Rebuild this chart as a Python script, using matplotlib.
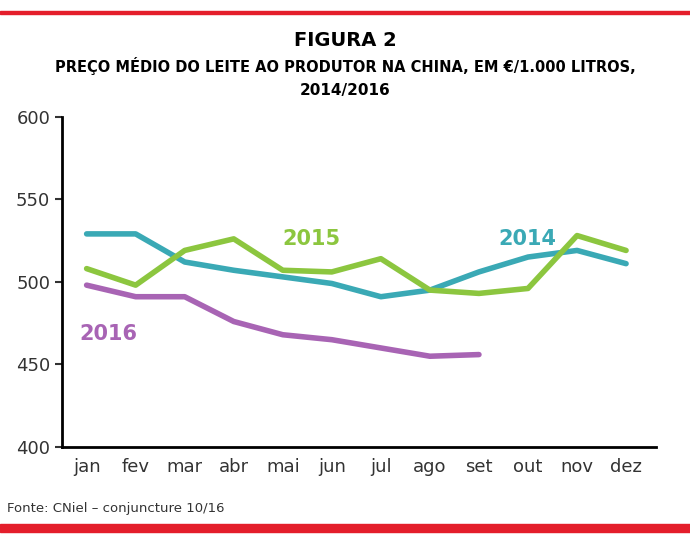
import matplotlib
matplotlib.use("Agg")
import matplotlib.pyplot as plt
from matplotlib.patches import Rectangle

months = ["jan","fev","mar","abr","mai","jun","jul","ago","set","out","nov","dez"]
s2014 = [529,529,512,507,503,499,491,495,506,515,519,511]
s2015 = [508,498,519,526,507,506,514,495,493,496,528,519]
s2016 = [498,491,491,476,468,465,460,455,456]
yticks = [400,450,500,550,600]

fig = plt.figure(figsize=(6.9,5.42), dpi=100)
ax = fig.add_axes([0.09, 0.175, 0.86, 0.61])
x = list(range(12))
ax.plot(x, s2014, color="#3aa9b5", lw=4, solid_capstyle="round", solid_joinstyle="round")
ax.plot(x, s2015, color="#8cc63f", lw=4, solid_capstyle="round", solid_joinstyle="round")
ax.plot(x[:len(s2016)], s2016, color="#a864b4", lw=4, solid_capstyle="round", solid_joinstyle="round")
ax.set_ylim(400,600)
ax.set_xlim(-0.5, 11.6)
ax.set_yticks(yticks)
ax.set_xticks(x)
ax.set_xticklabels(months)
for s in ["top","right"]:
    ax.spines[s].set_visible(False)
ax.spines["left"].set_linewidth(2)
ax.spines["bottom"].set_linewidth(2)
ax.tick_params(axis="y", labelsize=13, length=5, width=1.5, colors="#333333")
ax.tick_params(axis="x", labelsize=13, length=0, pad=8, colors="#333333")
ax.text(4.0, 522, "2015", color="#8cc63f", fontsize=15, fontweight="bold")
ax.text(8.4, 522, "2014", color="#3aa9b5", fontsize=15, fontweight="bold")
ax.text(-0.15, 465, "2016", color="#a864b4", fontsize=15, fontweight="bold")

fig.add_artist(Rectangle((0.0,0.975),1.0,0.005,color="#e41e2b",transform=fig.transFigure))
fig.add_artist(Rectangle((0.0,0.018),1.0,0.016,color="#e41e2b",transform=fig.transFigure))
fig.text(0.5,0.915,"FIGURA 2",ha="center",fontsize=14,fontweight="bold")
fig.text(0.5,0.868,"PREÇO MÉDIO DO LEITE AO PRODUTOR NA CHINA, EM €/1.000 LITROS,",ha="center",fontsize=10.5,fontweight="bold")
fig.text(0.5,0.825,"2014/2016",ha="center",fontsize=11,fontweight="bold")
fig.text(0.01,0.055,"Fonte: CNiel – conjuncture 10/16",fontsize=9.5,color="#333333")
fig.savefig("out.png", dpi=100)
